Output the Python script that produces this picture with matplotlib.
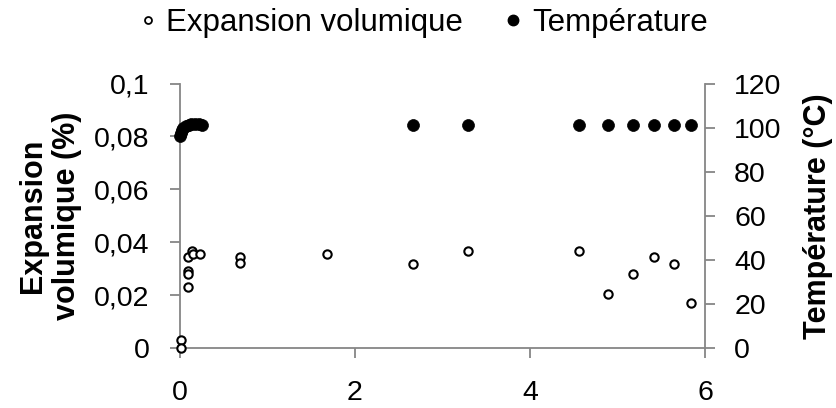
import matplotlib
matplotlib.use("Agg")
import matplotlib.pyplot as plt
from matplotlib.lines import Line2D
from matplotlib.ticker import FuncFormatter

plt.rcParams['font.family'] = ['Liberation Sans', 'DejaVu Sans']

# Expansion volumique (open circles)
exp_x = [0.008, 0.008, 0.088, 0.095, 0.095, 0.088, 0.133, 0.152, 0.229,
         0.686, 0.686, 1.676, 2.667, 3.288, 4.56, 4.895, 5.18, 5.42, 5.65, 5.84]
exp_y = [0.003, 0.0, 0.0345, 0.0292, 0.028, 0.023, 0.0368, 0.0355, 0.0355,
         0.0345, 0.032, 0.0355, 0.0318, 0.0368, 0.0368, 0.0204, 0.028, 0.0343, 0.0318, 0.017]

# Température (filled circles)
temp_x = [0.0, 0.01, 0.02, 0.04, 0.07, 0.1, 0.13, 0.17, 0.22, 0.25,
          2.667, 3.288, 4.56, 4.895, 5.18, 5.42, 5.65, 5.84]
temp_y = [96.0, 97.5, 99.0, 100.0, 100.5, 101.0, 101.5, 101.5, 101.5, 101.2,
          101.0, 101.0, 101.0, 101.0, 101.0, 101.0, 101.0, 101.0]

x_ticks = [0, 2, 4, 6]
left_ticks = [0, 0.02, 0.04, 0.06, 0.08, 0.1]
right_ticks = [0, 20, 40, 60, 80, 100, 120]

GRAY = '#868686'
FS = 20.5

fig = plt.figure(figsize=(8.37, 4.08), dpi=100)
ax = fig.add_axes([180/837, 60/408, 525/837, 264.5/408])
ax2 = ax.twinx()

ax.plot(exp_x, exp_y, linestyle='none', marker='o', ms=6.0, mew=1.5,
        mfc='white', mec='black', clip_on=False, zorder=3)
ax2.plot(temp_x, temp_y, linestyle='none', marker='o', ms=8.6, mew=0.5,
         mfc='black', mec='black', clip_on=False, zorder=3)

ax.set_xlim(0, 6)
ax.set_ylim(0, 0.1)
ax2.set_ylim(0, 120)
ax.set_xticks(x_ticks)
ax.set_yticks(left_ticks)
ax2.set_yticks(right_ticks)

def comma(v, pos):
    return ('%g' % v).replace('.', ',')
ax.yaxis.set_major_formatter(FuncFormatter(comma))

for a in (ax, ax2):
    for s in a.spines.values():
        s.set_color(GRAY)
        s.set_linewidth(1.3)
    a.spines['top'].set_visible(False)
ax.spines['right'].set_visible(False)
ax2.spines['left'].set_visible(False)
ax2.spines['bottom'].set_visible(False)

ax.tick_params(axis='x', direction='out', length=7, width=1.3, color=GRAY,
               labelsize=FS, pad=16)
ax.tick_params(axis='y', direction='out', length=7, width=1.3, color=GRAY,
               labelsize=FS, pad=15)
ax2.tick_params(axis='y', direction='out', length=7, width=1.3, color=GRAY,
                labelsize=FS, pad=14)

yc = ax.get_position().y0 + ax.get_position().height / 2
fig.text(50/837, yc, 'Expansion\nvolumique (%)', rotation=90, ha='center', va='center',
         fontsize=22, fontweight='bold', linespacing=1.15, multialignment='center')
fig.text(818/837, yc, 'Température (°C)', rotation=90, ha='center', va='center',
         fontsize=22, fontweight='bold')

handles = [
    Line2D([], [], linestyle='none', marker='o', ms=5, mew=1.3, mfc='white', mec='black'),
    Line2D([], [], linestyle='none', marker='o', ms=7.5, mfc='black', mec='black'),
]
fig.legend(handles, ['Expansion volumique', 'Température'], loc='center',
           bbox_to_anchor=(423/837, 1 - 23/408), ncol=2, frameon=False,
           fontsize=22.5, handlelength=0.6, handletextpad=0.3, columnspacing=1.3,
           borderaxespad=0, borderpad=0)

fig.savefig('out.png', dpi=100)
